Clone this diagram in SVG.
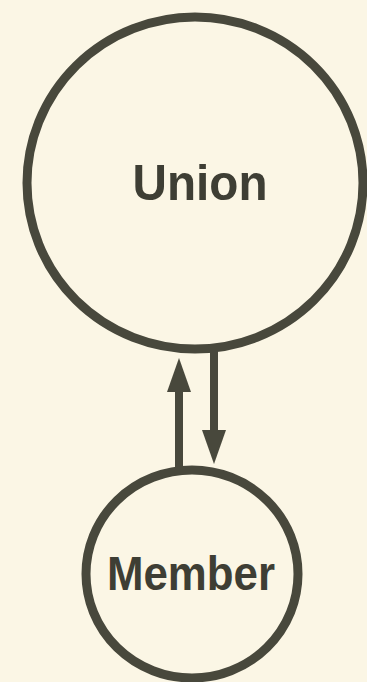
<svg xmlns="http://www.w3.org/2000/svg" width="367" height="682" viewBox="0 0 367 682">
  <defs>
    <style>
      .node { fill: none; stroke: #48483c; stroke-width: 9; }
      .label { font-family: "Liberation Sans", Arial, sans-serif; font-weight: bold; fill: #3e3e34; text-anchor: middle; }
      .conn { stroke: #48483c; stroke-width: 8; fill: none; }
    </style>
    <marker id="head" markerUnits="userSpaceOnUse" markerWidth="34" markerHeight="24" viewBox="0 0 34 24" refX="0" refY="12" orient="auto">
      <path d="M0,0 L34,12 L0,24 z" fill="#48483c"/>
    </marker>
  </defs>
  <rect x="0" y="0" width="367" height="682" fill="#fbf6e5"/>
  <g id="union">
    <ellipse class="node" cx="195" cy="183" rx="168" ry="166"/>
    <text class="label" x="200" y="200" font-size="50" textLength="135" lengthAdjust="spacingAndGlyphs">Union</text>
  </g>
  <g id="member">
    <ellipse class="node" cx="192" cy="574" rx="106" ry="104"/>
    <text class="label" x="191" y="590" font-size="48" textLength="168" lengthAdjust="spacingAndGlyphs">Member</text>
  </g>
  <g id="connectors">
    <line class="conn" x1="179" y1="470" x2="179" y2="392" marker-end="url(#head)"/>
    <line class="conn" x1="214" y1="350" x2="214" y2="430" marker-end="url(#head)"/>
  </g>
</svg>
